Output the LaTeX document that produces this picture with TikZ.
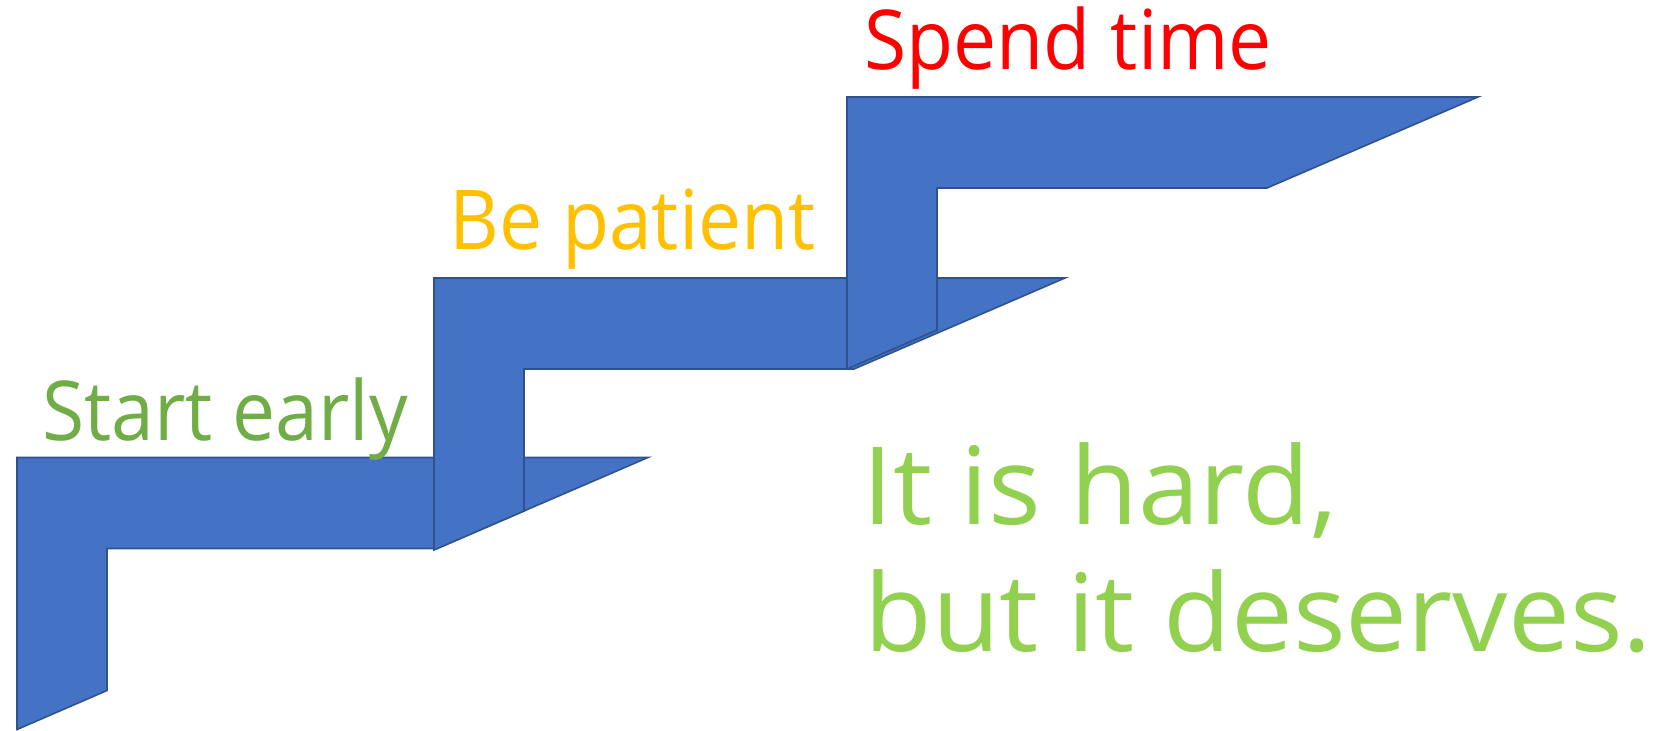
\documentclass[tikz,border=0pt]{standalone}
\usepackage{fontspec}
\setmainfont{Open Sans}
\newfontfamily\hintfont[FakeStretch=0.93]{Open Sans}
\newfontfamily\mottofont[FakeStretch=1.025]{Open Sans}
\definecolor{stairblue}{HTML}{4472C4}
\definecolor{stairline}{HTML}{2F528F}
\definecolor{earlygreen}{HTML}{70AD47}
\definecolor{patientgold}{HTML}{FFC000}
\definecolor{mottogreen}{HTML}{92D050}

\begin{document}
\begin{tikzpicture}[
  x = 0.5pt, y = -0.5pt,
  stair/.style = {fill = stairblue, draw = stairline, line width = 0.8pt},
  hint/.style = {anchor = base west, inner sep = 0pt, font = \hintfont\fontsize{41.3}{50}\selectfont},
  motto/.style = {anchor = base west, inner sep = 0pt, text = mottogreen, font = \mottofont\fontsize{53.9}{64}\selectfont},
  ]
  \useasboundingbox (0,0) rectangle (1653,731);
  % three steps, lowest first
  \foreach \dx/\dy in {17/457.5, 434/278, 847/97}
    \draw[stair, shift = {(\dx,\dy)}]
      (0,0) -- (631,0) -- (420,91) -- (90,91) -- (90,233) -- (0,272) -- cycle;
  \node[hint, text = earlygreen]  (early)   at (42,440.5) {Start early};
  \node[hint, text = patientgold] (patient) at (449,250)  {Be patient};
  \node[hint, text = red]         (spend)   at (864,69.5) {Spend time};
  \node[motto] (hard)     at (862,524)   {It is hard,};
  \node[motto] (deserves) at (864,651.5) {but it deserves.};
\end{tikzpicture}
\end{document}
